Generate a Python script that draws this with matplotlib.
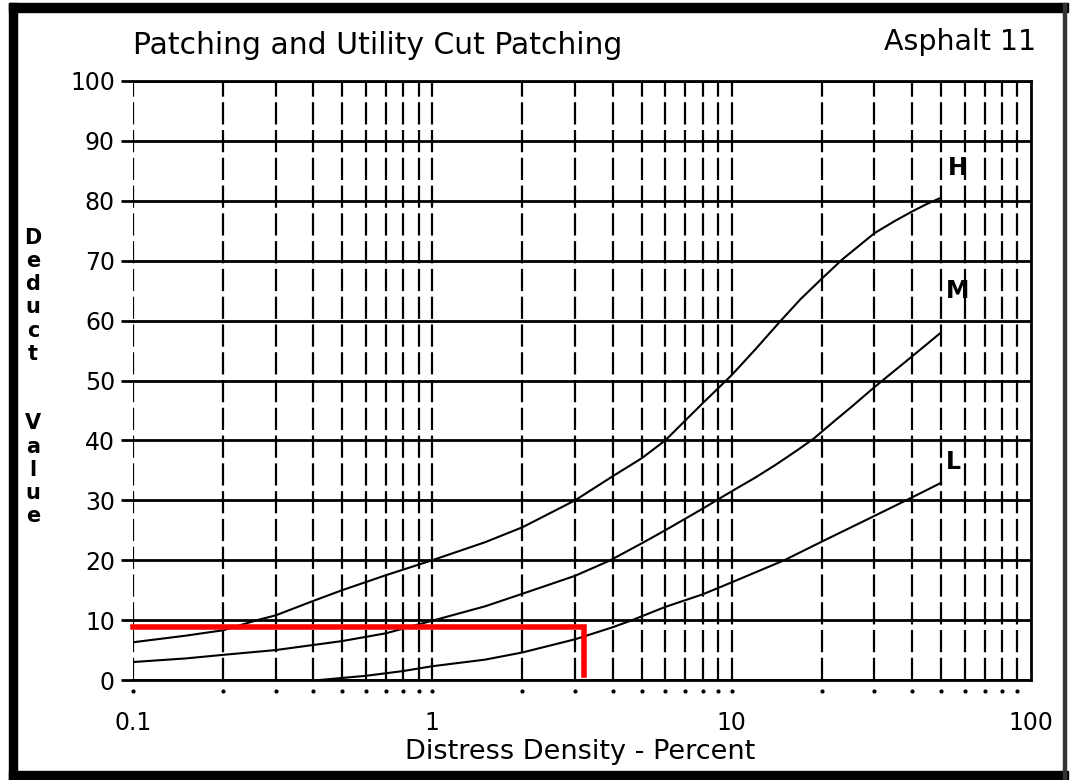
import matplotlib.pyplot as plt
from matplotlib.patches import Rectangle

# -----------------------------
# Data
# -----------------------------
h_density = [0.1, 0.15, 0.2, 0.26, 0.3, 0.4, 0.5, 0.7, 1, 1.5, 2, 3, 4, 5, 6, 8,
             10, 12, 14.6, 17, 20, 23.4, 30, 35, 40, 45, 50]
h_deduct = [6.3, 7.4, 8.3, 10, 10.8, 13.2, 15.0, 17.5, 20, 23, 25.5, 30, 34, 37, 40,
            46.2, 50.9, 55.2, 60, 63.6, 67, 70.2, 74.6, 76.6, 78.2, 79.5, 80.5]

m_density = [0.1, 0.15, 0.2, 0.3, 0.5, 0.7, 1, 1.5, 2, 3, 3.9, 5, 6, 8, 8.9,
             10, 12, 14, 16.5, 18.8, 22, 25, 30, 40, 50]
m_deduct = [3, 3.6, 4.2, 5, 6.5, 7.8, 9.9, 12.3, 14.4, 17.4, 19.9, 22.8, 25, 28.6,
            30, 31.5, 33.8, 35.9, 38.3, 40.3, 43.2, 45.5, 48.9, 54, 58]

l_density = [0.42, 0.6, 0.8, 1, 1.5, 2, 3, 4, 4.6, 6, 8, 10, 15, 20, 30, 39, 50]
l_deduct = [0, 0.7, 1.5, 2.3, 3.4, 4.6, 6.8, 8.8, 9.9, 12.2, 14.3, 16.3, 20, 23.1,
            27.4, 30.2, 32.9]

# red reading line
red_density = [0.1, 3.22, 3.22]
red_deduct = [8.8, 8.8, 0.8]

curve_labels = ["H", "M", "L"]
label_density = [57, 57, 55]
label_deduct = [85.5, 65, 36.4]

y_ticks = list(range(0, 101, 10))
x_ticks = [0.1, 1, 10, 100]
x_ticklabels = ["0.1", "1", "10", "100"]

W, H = 1070, 780

# -----------------------------
# Figure
# -----------------------------
fig = plt.figure(figsize=(W / 100, H / 100), dpi=100)
fig.patch.set_facecolor("white")
ax = fig.add_axes([133 / W, 1 - 680 / H, (1031 - 133) / W, (680 - 81) / H])

ax.set_xscale("log")
ax.set_xlim(0.1, 100)
ax.set_ylim(0, 100)

# vertical dashed grid (log cycles)
grid_x = [k * 10 ** d for d in (-1, 0, 1) for k in range(1, 10)]
ax.vlines(grid_x, 0, 100, colors="black", linewidth=1.6,
          linestyles=(0, (10, 2.5)))
ax.plot(grid_x, [-1.8] * len(grid_x), ls="none", marker="o", ms=2,
        color="black", clip_on=False)

# horizontal solid grid
ax.yaxis.grid(True, color="black", linewidth=2)
ax.set_axisbelow(True)

for side in ["top", "right", "bottom"]:
    ax.spines[side].set_linewidth(2)
ax.spines["left"].set_visible(False)

ax.set_yticks(y_ticks)
ax.tick_params(axis="y", length=9, width=2, pad=4, labelsize=17)
ax.set_xticks(x_ticks)
ax.set_xticklabels(x_ticklabels)
ax.minorticks_off()
ax.tick_params(axis="x", length=0, pad=22, labelsize=17)

# curves
ax.plot(h_density, h_deduct, color="black", lw=1.5)
ax.plot(m_density, m_deduct, color="black", lw=1.5)
ax.plot(l_density, l_deduct, color="black", lw=1.5)

for lab, x, y in zip(curve_labels, label_density, label_deduct):
    ax.text(x, y, lab, ha="center", va="center", fontsize=17,
            fontweight="bold")

ax.plot(red_density, red_deduct, color="#ff0000", lw=4,
        solid_joinstyle="miter", clip_on=False)

# titles and labels
fig.text(133 / W, 1 - 45 / H, "Patching and Utility Cut Patching",
         fontsize=21.5, ha="left", va="center")
fig.text(1036 / W, 1 - 42 / H, "Asphalt 11", fontsize=20.5, ha="right",
         va="center")
fig.text(580 / W, 1 - 752 / H, "Distress Density - Percent", fontsize=19.5,
         ha="center", va="center")
fig.text(33 / W, 1 - 377 / H, "\n".join("Deduct Value".replace(" ", "  ")),
         fontsize=15, fontweight="bold", ha="center", va="center",
         ma="center", linespacing=1.2)

# scanned page frame
frame = [(9, 3, 1068, 12), (9, 3, 17, 780), (9, 771, 1068, 780)]
for x0, y0, x1, y1 in frame:
    fig.add_artist(Rectangle((x0 / W, 1 - y1 / H), (x1 - x0) / W, (y1 - y0) / H,
                             transform=fig.transFigure, color="black"))
fig.add_artist(Rectangle((1063 / W, 0), 3 / W, 1 - 3 / H,
                         transform=fig.transFigure, color="#333333"))

fig.savefig("out.png", dpi=100)
